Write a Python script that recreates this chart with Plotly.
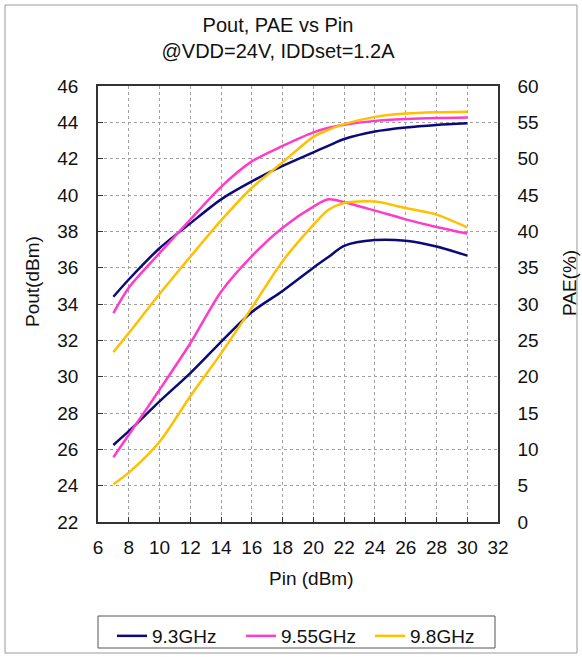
import plotly.graph_objects as go

pin = [7, 8, 10, 12, 14, 16, 18, 20, 21, 22, 24, 26, 28, 30]

pout_93 = [34.4, 35.35, 37.07, 38.44, 39.76, 40.75, 41.6, 42.35, 42.72, 43.08, 43.5, 43.72, 43.86, 43.95]
pout_955 = [33.5, 34.9, 36.8, 38.65, 40.45, 41.85, 42.7, 43.45, 43.7, 43.87, 44.08, 44.18, 44.24, 44.27]
pout_98 = [31.35, 32.4, 34.55, 36.6, 38.6, 40.4, 41.8, 43.2, 43.6, 43.9, 44.3, 44.48, 44.55, 44.58]

pae_93 = [10.6, 12.5, 16.6, 20.5, 24.8, 28.9, 31.8, 35.0, 36.5, 38.0, 38.8, 38.7, 37.9, 36.65]
pae_955 = [8.9, 12.0, 18.2, 24.6, 31.7, 36.6, 40.5, 43.4, 44.4, 44.0, 42.85, 41.65, 40.6, 39.7]
pae_98 = [5.2, 6.8, 11.05, 17.3, 23.2, 29.5, 35.9, 40.9, 43.0, 43.9, 44.1, 43.2, 42.3, 40.55]

series_names = ["9.3GHz", "9.55GHz", "9.8GHz"]
colors = ["#0A0A7A", "#FF3CC8", "#FFC000"]

x_ticks = list(range(6, 33, 2))
y_ticks = list(range(22, 47, 2))
y2_ticks = list(range(0, 61, 5))

FONT = "Liberation Sans, Arial, sans-serif"

fig = go.Figure()
pouts = [pout_93, pout_955, pout_98]
paes = [pae_93, pae_955, pae_98]
for name, col, po, pa in zip(series_names, colors, pouts, paes):
    fig.add_trace(go.Scatter(x=pin, y=po, mode="lines", name=name,
                             line=dict(color=col, width=2.5, shape="spline", smoothing=0.8),
                             legendgroup=name, showlegend=True))
    fig.add_trace(go.Scatter(x=pin, y=pa, mode="lines", name=name, yaxis="y2",
                             line=dict(color=col, width=2.5, shape="spline", smoothing=0.8),
                             legendgroup=name, showlegend=False))

W, H = 582, 657
L, R, T, B = 98, 498, 86, 522

def px_x(p):
    return (p - L) / (R - L)

def px_y(p):
    return (B - p) / (B - T)

title_font = dict(size=19, family=FONT, color="#111")

fig.update_layout(
    width=W, height=H,
    margin=dict(l=L, r=W - R, t=T, b=H - B, autoexpand=False),
    paper_bgcolor="white", plot_bgcolor="white",
    font=dict(family=FONT, size=19, color="#111"),
    title=dict(text="Pout, PAE vs Pin<br>@VDD=24V, IDDset=1.2A",
               x=278 / W, xanchor="center", xref="container",
               y=1 - 31.5 / H, yanchor="top", yref="container",
               font=dict(size=20, family=FONT, color="#111")),
    xaxis=dict(range=[6, 32], tickvals=x_ticks, ticks="inside", ticklen=5,
               tickcolor="#333", showline=True, linecolor="#333", linewidth=1.5,
               mirror=True, showgrid=True, gridcolor="#A0A0A0", griddash="3px,3px",
               gridwidth=1, zeroline=False, ticklabelstandoff=7),
    yaxis=dict(range=[22, 46], tickvals=y_ticks, ticks="inside", ticklen=5,
               tickcolor="#333", showline=True, linecolor="#333", linewidth=1.5,
               mirror=True, showgrid=True, gridcolor="#A0A0A0", griddash="3px,3px",
               gridwidth=1, zeroline=False, ticklabelstandoff=14),
    yaxis2=dict(range=[0, 60], tickvals=y2_ticks, overlaying="y", side="right",
                ticks="", showline=True, linecolor="#333", linewidth=1.5,
                showgrid=False, zeroline=False, ticklabelstandoff=14),
    legend=dict(orientation="h", x=px_x(112), xanchor="left",
                y=px_y(617), yanchor="top", borderwidth=0,
                font=dict(size=19, family=FONT, color="#111"),
                itemwidth=30, entrywidth=84, entrywidthmode="pixels",
                bgcolor="rgba(0,0,0,0)"),
    annotations=[
        dict(text="Pin (dBm)", xref="paper", yref="paper", x=px_x(311), y=px_y(578),
             xanchor="center", yanchor="middle", showarrow=False, font=title_font),
        dict(text="Pout(dBm)", xref="paper", yref="paper", x=px_x(32), y=px_y(282),
             xanchor="center", yanchor="middle", showarrow=False, textangle=-90,
             font=title_font),
        dict(text="PAE(%)", xref="paper", yref="paper", x=px_x(569), y=px_y(283),
             xanchor="center", yanchor="middle", showarrow=False, textangle=-90,
             font=title_font),
    ],
    shapes=[dict(type="rect", xref="paper", yref="paper",
                 x0=px_x(5), x1=px_x(577), y0=px_y(653), y1=px_y(5),
                 line=dict(color="#999", width=1), layer="below"),
            dict(type="rect", xref="paper", yref="paper",
                 x0=px_x(98), x1=px_x(495), y0=px_y(648), y1=px_y(616),
                 line=dict(color="#555", width=1), fillcolor="white", layer="below")],
)

fig.write_html("out.html", config={"displayModeBar": False},
               post_script="document.body.style.margin='0';document.body.style.overflow='hidden';")
